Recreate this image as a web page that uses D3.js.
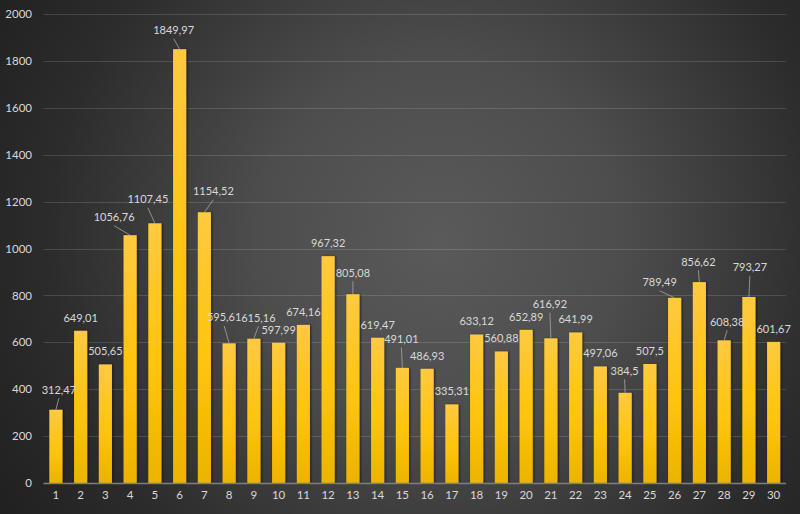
<!DOCTYPE html>
<html><head><meta charset="utf-8">
<script src="https://cdn.jsdelivr.net/npm/d3@7"></script>
<style>
html,body{margin:0;padding:0;background:#262626;}
svg{display:block;}
</style></head>
<body>
<svg id="chart" width="800" height="514"></svg>
<script>
// ---- data ----
const categories = d3.range(1, 31).map(String);
const values = [312.47, 649.01, 505.65, 1056.76, 1107.45, 1849.97, 1154.52, 595.61, 615.16, 597.99,
                674.16, 967.32, 805.08, 619.47, 491.01, 486.93, 335.31, 633.12, 560.88, 652.89,
                616.92, 641.99, 497.06, 384.5, 507.5, 789.49, 856.62, 608.38, 793.27, 601.67];
const labelTexts = ["312,47","649,01","505,65","1056,76","1107,45","1849,97","1154,52","595,61","615,16","597,99",
                    "674,16","967,32","805,08","619,47","491,01","486,93","335,31","633,12","560,88","652,89",
                    "616,92","641,99","497,06","384,5","507,5","789,49","856,62","608,38","793,27","601,67"];
const yTicks = [0, 200, 400, 600, 800, 1000, 1200, 1400, 1600, 1800, 2000];

// ---- layout (label displacement relative to bar top-centre; null = default position) ----
const labelShift = [[3,-20],null,null,[-16,-18],[-7,-24],[-6,-19],[9,-21],[-5,-26],[4.5,-21],null,
                    null,null,[0,-21.5],null,[-1,-29],null,null,null,null,null,
                    [-1,-34],null,null,[-0.5,-22],null,[-15,-15.6],[-1,-20.4],[3,-18.6],[1,-29.7],null];

const W = 800, H = 514;
const margin = {left: 43.5, right: 14, top: 14, bottom: 31};
const FONT = "Lato, 'Open Sans', sans-serif";
const svg = d3.select("#chart");
const defs = svg.append("defs");

const bg = defs.append("radialGradient").attr("id","bg")
  .attr("gradientUnits","userSpaceOnUse").attr("cx",440).attr("cy",240).attr("r",520);
bg.append("stop").attr("offset","0%").attr("stop-color","#5a5a5a");
bg.append("stop").attr("offset","35%").attr("stop-color","#4d4d4d");
bg.append("stop").attr("offset","75%").attr("stop-color","#2c2c2c");
bg.append("stop").attr("offset","100%").attr("stop-color","#202020");

const bar = defs.append("linearGradient").attr("id","barg").attr("x1",0).attr("y1",0).attr("x2",0).attr("y2",1);
bar.append("stop").attr("offset","0%").attr("stop-color","#ffc941");
bar.append("stop").attr("offset","55%").attr("stop-color","#ffc40a");
bar.append("stop").attr("offset","100%").attr("stop-color","#ecb400");

const sh = defs.append("filter").attr("id","shadow").attr("x","-30%").attr("y","-5%").attr("width","160%").attr("height","110%");
sh.append("feDropShadow").attr("dx",1).attr("dy",0.5).attr("stdDeviation",1.2)
  .attr("flood-color","#0a0a20").attr("flood-opacity",0.75);

svg.append("rect").attr("width",W).attr("height",H).attr("fill","url(#bg)");

const x = d3.scaleBand().domain(categories).range([margin.left, W - margin.right]).paddingInner(0.47).paddingOuter(0.235);
const y = d3.scaleLinear().domain([0, 2000]).range([H - margin.bottom, margin.top]);

// gridlines
svg.append("g").selectAll("line").data(yTicks.filter(d => d > 0)).join("line")
  .attr("x1", margin.left).attr("x2", W - margin.right)
  .attr("y1", d => Math.round(y(d)) + 0.5).attr("y2", d => Math.round(y(d)) + 0.5)
  .attr("stroke", "#ffffff").attr("stroke-opacity", 0.14).attr("stroke-width", 1);

// y axis labels
const yAxis = d3.axisLeft(y).tickValues(yTicks).tickFormat(d3.format("d")).tickSize(0).tickPadding(0);
const gy = svg.append("g").attr("transform", `translate(32,0)`).call(yAxis);
gy.select(".domain").remove();
gy.selectAll("text").attr("fill","#d9d9d9").attr("font-family",FONT).attr("font-size","11.5px");

// bars
svg.append("g").selectAll("rect").data(values).join("rect")
  .attr("x", (d,i) => x(categories[i]))
  .attr("width", x.bandwidth())
  .attr("y", d => y(d))
  .attr("height", d => y(0) - y(d))
  .attr("fill", "url(#barg)")
  .attr("filter", "url(#shadow)");

// baseline
svg.append("line").attr("x1", margin.left).attr("x2", W - margin.right)
  .attr("y1", y(0) + 0.5).attr("y2", y(0) + 0.5)
  .attr("stroke", "#7f7f7f").attr("stroke-width", 1.5);

// x axis labels
const xAxis = d3.axisBottom(x).tickSize(0).tickPadding(0);
const gx = svg.append("g").attr("transform", `translate(0,${y(0) + 8})`).call(xAxis);
gx.select(".domain").remove();
gx.selectAll("text").attr("fill","#d9d9d9").attr("font-family",FONT).attr("font-size","11.5px");

// data labels + leader lines
const cx = i => x(categories[i]) + x.bandwidth() / 2;
const lblPos = values.map((v, i) => {
  const s = labelShift[i];
  return s ? {x: cx(i) + s[0], y: y(v) + s[1], lead: true} : {x: cx(i), y: y(v) - 13, lead: false};
});
svg.append("g").selectAll("line").data(values.map((v,i)=>i).filter(i => lblPos[i].lead)).join("line")
  .attr("x1", i => lblPos[i].x).attr("y1", i => lblPos[i].y + 8.5)
  .attr("x2", i => cx(i)).attr("y2", i => y(values[i]))
  .attr("stroke", "#a6a6a6").attr("stroke-width", 0.8);
svg.append("g").selectAll("text").data(labelTexts).join("text")
  .attr("x", (d,i) => lblPos[i].x).attr("y", (d,i) => lblPos[i].y)
  .attr("dy", "0.35em").attr("text-anchor","middle")
  .attr("fill","#d9d9d9").attr("font-family",FONT).attr("font-size","11px")
  .text(d => d);
</script>
</body></html>
